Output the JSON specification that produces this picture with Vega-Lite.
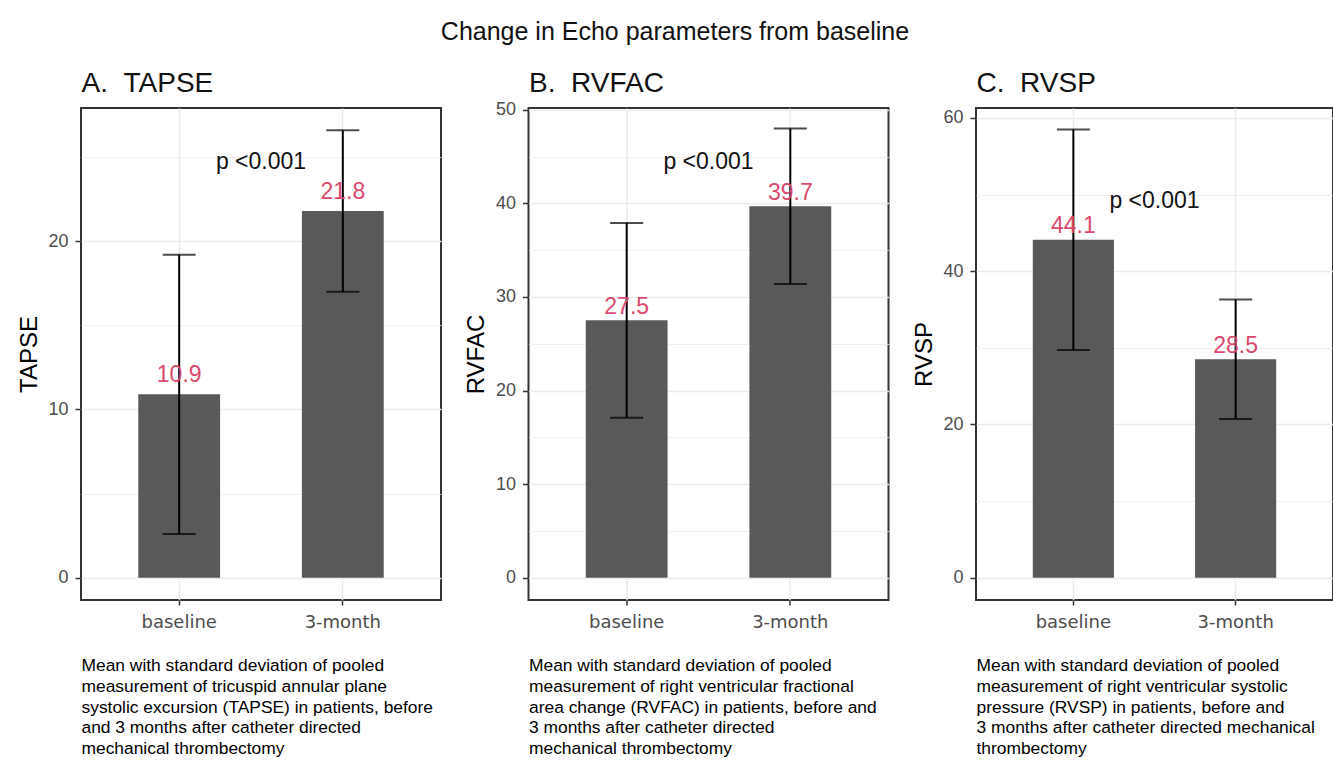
{
  "$schema": "https://vega.github.io/schema/vega-lite/v6.json",
  "padding": {"left": 16, "top": 20, "right": 0, "bottom": 0},
  "spacing": 87.5,
  "bounds": "flush",
  "title": {"text": "Change in Echo parameters from baseline", "frame": "bounds", "fontSize": 25, "fontWeight": "normal", "font": "Liberation Sans", "color": "#111111", "anchor": "middle", "baseline": "alphabetic", "offset": 3.4},
  "config": {
    "view": {"stroke": "#333333", "strokeWidth": 2},
    "font": "Liberation Sans",
    "axisX": {"domain": false, "tickColor": "#333333", "tickWidth": 1.5, "tickSize": 5, "labelFont": "DejaVu Sans", "labelFontSize": 18, "labelColor": "#4D4D4D", "labelPadding": 8, "labelAngle": 0, "grid": true, "gridColor": "#EBEBEB", "gridWidth": 1.5, "bandPosition": 0.5, "titleFont": "Liberation Sans", "titleFontSize": 17.4, "titleFontWeight": "normal", "titleColor": "#000000", "titleAnchor": "start", "titleAlign": "left", "titleBaseline": "top", "titlePadding": 24.6, "titleLineHeight": 20.8, "minExtent": 32, "maxExtent": 32},
    "axisY": {"domain": false, "tickColor": "#333333", "tickWidth": 1.5, "tickSize": 6, "labelFont": "Liberation Sans", "labelFontSize": 18, "labelColor": "#4D4D4D", "labelPadding": 7, "grid": true, "gridColor": "#EBEBEB", "titleFont": "Liberation Sans", "titleFontSize": 24, "titleFontWeight": "normal", "titleColor": "#000000", "titlePadding": 7, "minExtent": 33, "maxExtent": 33}
  },
  "hconcat": [
    {
      "width": 360, "height": 492,
      "resolve": {"axis": {"x": "independent"}},
      "data": {"values": [
        {"time": "baseline", "mean": 10.9, "lo": 2.6, "hi": 19.2},
        {"time": "3-month", "mean": 21.8, "lo": 17.0, "hi": 26.6}
      ]},
      "layer": [
        {"mark": {"type": "bar", "color": "#595959"},
         "encoding": {
           "x": {"field": "time", "type": "nominal", "sort": ["baseline", "3-month"], "scale": {"domain": ["baseline", "3-month"], "paddingInner": 0.5, "paddingOuter": 0.35},
             "axis": {"title": ["Mean with standard deviation of pooled", "measurement of tricuspid annular plane", "systolic excursion (TAPSE) in patients, before", "and 3 months after catheter directed", "mechanical thrombectomy"]}},
           "y": {"field": "mean", "type": "quantitative", "scale": {"domain": [-1.33, 27.93], "nice": false, "zero": false},
           "axis": {"title": "TAPSE", "values": [0, 5, 10, 15, 20, 25], "labelExpr": "datum.value % 10 === 0 ? datum.label : ''",
             "tickOpacity": {"condition": {"test": "datum.value % 10 === 0", "value": 1}, "value": 0},
             "gridWidth": {"condition": {"test": "datum.value % 10 === 0", "value": 1.5}, "value": 0.8}}}}},
        {"mark": {"type": "rule", "strokeWidth": 2, "color": "#000000"},
         "encoding": {"x": {"field": "time", "type": "nominal", "sort": ["baseline", "3-month"], "axis": null}, "y": {"field": "lo", "type": "quantitative"}, "y2": {"field": "hi"}}},
        {"mark": {"type": "tick", "size": 33, "thickness": 2, "color": "#000000", "orient": "horizontal"},
         "encoding": {"x": {"field": "time", "type": "nominal", "sort": ["baseline", "3-month"], "axis": null}, "y": {"field": "lo", "type": "quantitative"}}},
        {"mark": {"type": "tick", "size": 33, "thickness": 2, "color": "#000000", "orient": "horizontal"},
         "encoding": {"x": {"field": "time", "type": "nominal", "sort": ["baseline", "3-month"], "axis": null}, "y": {"field": "hi", "type": "quantitative"}}},
        {"mark": {"type": "text", "color": "#D94A6E", "fontSize": 23, "font": "Liberation Sans", "baseline": "alphabetic", "dy": -12},
         "encoding": {"x": {"field": "time", "type": "nominal", "sort": ["baseline", "3-month"], "axis": null}, "y": {"field": "mean", "type": "quantitative"}, "text": {"field": "mean", "format": ".1f"}}},
        {"data": {"values": [{"time": "baseline", "py": 24.3, "ptext": "p <0.001"}]},
         "mark": {"type": "text", "color": "#111111", "fontSize": 23, "font": "Liberation Sans", "baseline": "alphabetic"},
         "encoding": {
           "x": {"field": "time", "type": "nominal", "sort": ["baseline", "3-month"], "bandPosition": 1.5,
             "axis": {"orient": "top", "title": "A. \u00a0TAPSE", "labels": false, "ticks": false, "grid": false, "domain": false, "titleFontSize": 28, "titleColor": "#111111", "titleBaseline": "alphabetic", "titlePadding": 16.3, "minExtent": 0, "maxExtent": 0}},
           "y": {"field": "py", "type": "quantitative"}, "text": {"field": "ptext"}}}
      ]
    },
    {
      "width": 360, "height": 492,
      "resolve": {"axis": {"x": "independent"}},
      "data": {"values": [
        {"time": "baseline", "mean": 27.5, "lo": 17.1, "hi": 37.9},
        {"time": "3-month", "mean": 39.7, "lo": 31.4, "hi": 48.0}
      ]},
      "layer": [
        {"mark": {"type": "bar", "color": "#595959"},
         "encoding": {
           "x": {"field": "time", "type": "nominal", "sort": ["baseline", "3-month"], "scale": {"domain": ["baseline", "3-month"], "paddingInner": 0.5, "paddingOuter": 0.35},
             "axis": {"title": ["Mean with standard deviation of pooled", "measurement of right ventricular fractional", "area change (RVFAC) in patients, before and", "3 months after catheter directed", "mechanical thrombectomy"]}},
           "y": {"field": "mean", "type": "quantitative", "scale": {"domain": [-2.39, 50.2], "nice": false, "zero": false},
           "axis": {"title": "RVFAC", "values": [0, 5, 10, 15, 20, 25, 30, 35, 40, 45, 50], "labelExpr": "datum.value % 10 === 0 ? datum.label : ''",
             "tickOpacity": {"condition": {"test": "datum.value % 10 === 0", "value": 1}, "value": 0},
             "gridWidth": {"condition": {"test": "datum.value % 10 === 0", "value": 1.5}, "value": 0.8}}}}},
        {"mark": {"type": "rule", "strokeWidth": 2, "color": "#000000"},
         "encoding": {"x": {"field": "time", "type": "nominal", "sort": ["baseline", "3-month"], "axis": null}, "y": {"field": "lo", "type": "quantitative"}, "y2": {"field": "hi"}}},
        {"mark": {"type": "tick", "size": 33, "thickness": 2, "color": "#000000", "orient": "horizontal"},
         "encoding": {"x": {"field": "time", "type": "nominal", "sort": ["baseline", "3-month"], "axis": null}, "y": {"field": "lo", "type": "quantitative"}}},
        {"mark": {"type": "tick", "size": 33, "thickness": 2, "color": "#000000", "orient": "horizontal"},
         "encoding": {"x": {"field": "time", "type": "nominal", "sort": ["baseline", "3-month"], "axis": null}, "y": {"field": "hi", "type": "quantitative"}}},
        {"mark": {"type": "text", "color": "#D94A6E", "fontSize": 23, "font": "Liberation Sans", "baseline": "alphabetic", "dy": -6.5},
         "encoding": {"x": {"field": "time", "type": "nominal", "sort": ["baseline", "3-month"], "axis": null}, "y": {"field": "mean", "type": "quantitative"}, "text": {"field": "mean", "format": ".1f"}}},
        {"data": {"values": [{"time": "baseline", "py": 43.7, "ptext": "p <0.001"}]},
         "mark": {"type": "text", "color": "#111111", "fontSize": 23, "font": "Liberation Sans", "baseline": "alphabetic"},
         "encoding": {
           "x": {"field": "time", "type": "nominal", "sort": ["baseline", "3-month"], "bandPosition": 1.5,
             "axis": {"orient": "top", "title": "B. \u00a0RVFAC", "labels": false, "ticks": false, "grid": false, "domain": false, "titleFontSize": 28, "titleColor": "#111111", "titleBaseline": "alphabetic", "titlePadding": 16.3, "minExtent": 0, "maxExtent": 0}},
           "y": {"field": "py", "type": "quantitative"}, "text": {"field": "ptext"}}}
      ]
    },
    {
      "width": 357, "height": 492,
      "resolve": {"axis": {"x": "independent"}},
      "data": {"values": [
        {"time": "baseline", "mean": 44.1, "lo": 29.7, "hi": 58.5},
        {"time": "3-month", "mean": 28.5, "lo": 20.7, "hi": 36.3}
      ]},
      "layer": [
        {"mark": {"type": "bar", "color": "#595959"},
         "encoding": {
           "x": {"field": "time", "type": "nominal", "sort": ["baseline", "3-month"], "scale": {"domain": ["baseline", "3-month"], "paddingInner": 0.5, "paddingOuter": 0.35},
             "axis": {"title": ["Mean with standard deviation of pooled", "measurement of right ventricular systolic", "pressure (RVSP) in patients, before and", "3 months after catheter directed mechanical", "thrombectomy"]}},
           "y": {"field": "mean", "type": "quantitative", "scale": {"domain": [-2.92, 61.3], "nice": false, "zero": false},
           "axis": {"title": "RVSP", "values": [0, 10, 20, 30, 40, 50, 60], "labelExpr": "datum.value % 20 === 0 ? datum.label : ''",
             "tickOpacity": {"condition": {"test": "datum.value % 20 === 0", "value": 1}, "value": 0},
             "gridWidth": {"condition": {"test": "datum.value % 20 === 0", "value": 1.5}, "value": 0.8}}}}},
        {"mark": {"type": "rule", "strokeWidth": 2, "color": "#000000"},
         "encoding": {"x": {"field": "time", "type": "nominal", "sort": ["baseline", "3-month"], "axis": null}, "y": {"field": "lo", "type": "quantitative"}, "y2": {"field": "hi"}}},
        {"mark": {"type": "tick", "size": 33, "thickness": 2, "color": "#000000", "orient": "horizontal"},
         "encoding": {"x": {"field": "time", "type": "nominal", "sort": ["baseline", "3-month"], "axis": null}, "y": {"field": "lo", "type": "quantitative"}}},
        {"mark": {"type": "tick", "size": 33, "thickness": 2, "color": "#000000", "orient": "horizontal"},
         "encoding": {"x": {"field": "time", "type": "nominal", "sort": ["baseline", "3-month"], "axis": null}, "y": {"field": "hi", "type": "quantitative"}}},
        {"mark": {"type": "text", "color": "#D94A6E", "fontSize": 23, "font": "Liberation Sans", "baseline": "alphabetic", "dy": -6.5},
         "encoding": {"x": {"field": "time", "type": "nominal", "sort": ["baseline", "3-month"], "axis": null}, "y": {"field": "mean", "type": "quantitative"}, "text": {"field": "mean", "format": ".1f"}}},
        {"data": {"values": [{"time": "baseline", "py": 48.3, "ptext": "p <0.001"}]},
         "mark": {"type": "text", "color": "#111111", "fontSize": 23, "font": "Liberation Sans", "baseline": "alphabetic"},
         "encoding": {
           "x": {"field": "time", "type": "nominal", "sort": ["baseline", "3-month"], "bandPosition": 1.5,
             "axis": {"orient": "top", "title": "C. \u00a0RVSP", "labels": false, "ticks": false, "grid": false, "domain": false, "titleFontSize": 28, "titleColor": "#111111", "titleBaseline": "alphabetic", "titlePadding": 16.3, "minExtent": 0, "maxExtent": 0}},
           "y": {"field": "py", "type": "quantitative"}, "text": {"field": "ptext"}}}
      ]
    }
  ]
}
